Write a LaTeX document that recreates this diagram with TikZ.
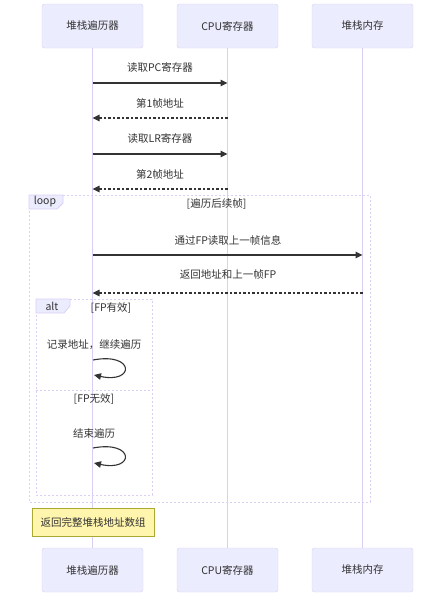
\documentclass[tikz,border=0pt]{standalone}
\usepackage{fontspec}
\setmainfont{Noto Sans CJK SC}
\usetikzlibrary{arrows.meta}
\definecolor{actorfill}{HTML}{ECECFF}
\definecolor{actorline}{HTML}{DACEF3}
\definecolor{ink}{HTML}{333333}
\definecolor{notefill}{HTML}{FFF5AD}
\definecolor{noteline}{HTML}{AAAA33}

\begin{document}
\begin{tikzpicture}[x=1pt,y=-1pt,
    actor/.style={draw=actorline,fill=actorfill,rounded corners=2.5pt,
      minimum width=101pt,minimum height=44pt,text=ink,
      font=\fontsize{10.5}{12}\selectfont},
    life/.style={draw=actorline,line width=1pt},
    msg/.style={draw=ink,line width=1.1pt,-{Triangle[length=7pt,width=6.5pt]}},
    reply/.style={msg,dash pattern=on 2.5pt off 2pt},
    lbl/.style={text=ink,inner sep=0pt,font=\fontsize{10.5}{12}\selectfont},
    frame/.style={draw=actorline,line width=1pt,dash pattern=on 2pt off 2pt},
    tab/.style={draw=actorline,fill=actorfill,line width=0.8pt},
    note/.style={draw=noteline,fill=notefill,line width=0.8pt,
      minimum width=122pt,minimum height=28pt,text=ink,
      font=\fontsize{10.5}{12}\selectfont}]
  \useasboundingbox (0,0) rectangle (439,597);

  % participants
  \node[actor] (walkT) at (92.5,26) {堆栈遍历器};
  \node[actor] (cpuT) at (227.5,26) {CPU寄存器};
  \node[actor] (memT) at (362.5,26) {堆栈内存};
  \node[actor] (walkB) at (92.5,570) {堆栈遍历器};
  \node[actor] (cpuB) at (227.5,570) {CPU寄存器};
  \node[actor] (memB) at (362.5,570) {堆栈内存};
  \draw[life] (walkT) -- (walkB);
  \draw[life] (cpuT) -- (cpuB);
  \draw[life] (memT) -- (memB);

  % registers
  \node[lbl] (m1) at (160,68) {读取PC寄存器};
  \draw[msg] (walkT |- 0,83) -- (cpuT |- 0,83);
  \node[lbl] (m2) at (160,103) {第1帧地址};
  \draw[reply] (cpuT |- 0,118) -- (walkT |- 0,118);
  \node[lbl] (m3) at (160,139) {读取LR寄存器};
  \draw[msg] (walkT |- 0,154) -- (cpuT |- 0,154);
  \node[lbl] (m4) at (160,174) {第2帧地址};
  \draw[reply] (cpuT |- 0,189) -- (walkT |- 0,189);

  % loop
  \draw[frame] (29,195) rectangle (370,502);
  \filldraw[tab] (29,195) -- (63,195) -- (63,203) -- (57,209) -- (29,209) -- cycle;
  \node[lbl] (looptag) at (45,202) {loop};
  \node[lbl] (loopcond) at (216.5,204) {[遍历后续帧]};
  \node[lbl] (m5) at (228,240) {通过FP读取上一帧信息};
  \draw[msg] (walkT |- 0,255) -- (memT |- 0,255);
  \node[lbl] (m6) at (228,275) {返回地址和上一帧FP};
  \draw[reply] (memT |- 0,293) -- (walkT |- 0,293);

  % alt
  \draw[frame] (36,299) rectangle (152,495);
  \draw[frame] (36,390) -- (152,390);
  \filldraw[tab] (36,299) -- (70,299) -- (70,306) -- (64,313) -- (36,313) -- cycle;
  \node[lbl] (alttag) at (52,306) {alt};
  \node[lbl] (altyes) at (111,308) {[FP有效]};
  \node[lbl] (m7) at (94,345) {记录地址，继续遍历};
  \coordinate (s1) at (93,360);
  \coordinate (e1) at (94,375);
  \draw[msg] (s1) .. controls (135,352) and (135,384) .. (e1);
  \node[lbl] (altno) at (94,399) {[FP无效]};
  \node[lbl] (m8) at (94,433) {结束遍历};
  \coordinate (s2) at (93,448);
  \coordinate (e2) at (94,463);
  \draw[msg] (s2) .. controls (135,440) and (135,472) .. (e2);

  % result
  \node[note] (result) at (93,522) {返回完整堆栈地址数组};
\end{tikzpicture}
\end{document}
